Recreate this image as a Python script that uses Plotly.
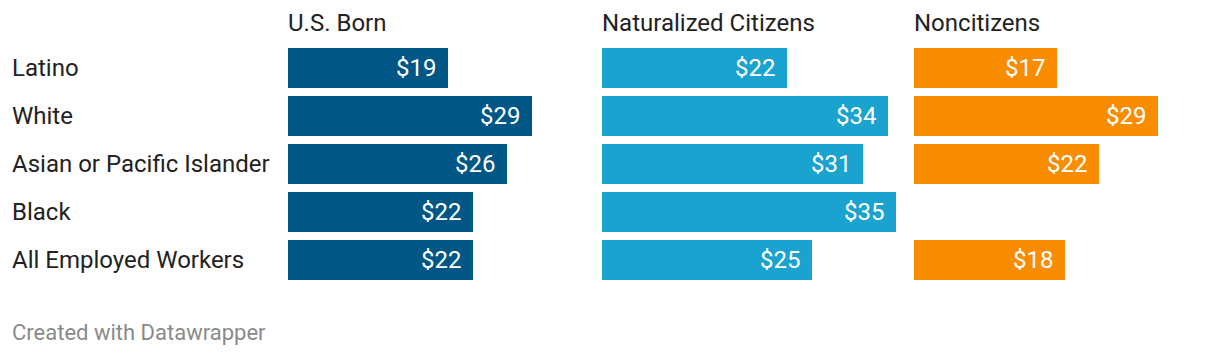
import plotly.graph_objects as go

categories = ["Latino", "White", "Asian or Pacific Islander", "Black", "All Employed Workers"]
panel_titles = ["U.S. Born", "Naturalized Citizens", "Noncitizens"]
us_born = [19, 29, 26, 22, 22]
naturalized = [22, 34, 31, 35, 25]
noncitizens = [17, 29, 22, None, 18]
colors = ["#005685", "#1aa3cf", "#f98c00"]

W, H = 1220, 356
off = 8  # page body margin offset
panel_left_px = [288 - off, 602 - off, 914 - off]
panel_w_px = 296
x_max = 35.2
row0_px, pitch = 68 - off, 48

fig = go.Figure()
series = [us_born, naturalized, noncitizens]
ytop = -row0_px / pitch
ybot = (H - row0_px) / pitch

for i, (vals, col, title) in enumerate(zip(series, colors, panel_titles)):
    xa = "x" if i == 0 else f"x{i+1}"
    xs = [v if v is not None else 0 for v in vals]
    fig.add_trace(go.Bar(
        x=xs, y=list(range(len(categories))), orientation="h",
        marker=dict(color=col, line=dict(width=0)), width=40 / pitch,
        xaxis=xa, yaxis="y", hoverinfo="skip", showlegend=False,
    ))
    axname = "xaxis" if i == 0 else f"xaxis{i+1}"
    fig.layout[axname] = dict(
        domain=[panel_left_px[i] / W, (panel_left_px[i] + panel_w_px) / W],
        range=[0, x_max], visible=False, fixedrange=True,
    )
    for j, v in enumerate(vals):
        if v is None:
            continue
        fig.add_annotation(
            x=v, y=j, xref=xa, yref="y", text=f"${v}", showarrow=False,
            xanchor="right", yanchor="middle", xshift=-10,
            font=dict(family="Roboto", size=24, color="white"),
        )
    fig.add_annotation(
        x=(panel_left_px[i] - 2) / W, y=1 - (23 - off) / H, xref="paper", yref="paper",
        text=title, showarrow=False, xanchor="left", yanchor="middle",
        font=dict(family="Roboto", size=24, color="#222222"),
    )

for j, c in enumerate(categories):
    fig.add_annotation(
        x=2 / W, y=j, xref="paper", yref="y", text=c, showarrow=False,
        xanchor="left", yanchor="middle",
        font=dict(family="Roboto", size=24, color="#222222"),
    )

fig.add_annotation(
    x=2 / W, y=1 - (332 - off) / H, xref="paper", yref="paper",
    text="Created with Datawrapper", showarrow=False,
    xanchor="left", yanchor="middle",
    font=dict(family="Roboto", size=22, color="#8a8a8a"),
)

fig.update_layout(
    width=W, height=H, margin=dict(l=0, r=0, t=0, b=0),
    paper_bgcolor="white", plot_bgcolor="white",
    yaxis=dict(range=[ybot, ytop], visible=False, fixedrange=True),
    bargap=0, hovermode=False,
)
fig.write_html("out.html", config={"displayModeBar": False})
